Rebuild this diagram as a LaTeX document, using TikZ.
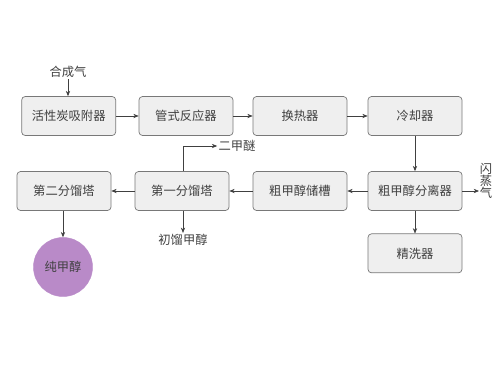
\documentclass[tikz,border=0pt]{standalone}
\usepackage{fontspec}
\setmainfont{Noto Sans CJK SC}
\usepackage{tikz}
\usetikzlibrary{arrows.meta,positioning,calc}
\definecolor{BoxFill}{RGB}{239,239,239}
\definecolor{BoxLine}{RGB}{120,120,120}
\definecolor{TxtC}{RGB}{64,64,64}
\definecolor{PurpC}{RGB}{185,138,200}
\tikzset{
  unit/.style={rectangle,rounded corners=3pt,draw=BoxLine,fill=BoxFill,line width=0.6pt,
               minimum width=2.82cm,minimum height=1.17cm,inner sep=0pt,
               font=\fontsize{10.5}{12}\selectfont,text=TxtC},
  prod/.style={circle,draw=PurpC,fill=PurpC,minimum size=1.77cm,inner sep=0pt,
               font=\fontsize{10.5}{12}\selectfont,text=TxtC},
  lbl/.style={font=\fontsize{10.5}{12}\selectfont,text=TxtC,inner sep=1pt},
  flow/.style={-{Stealth[length=1.6mm,width=1.3mm]},line width=0.5pt,TxtC},
}
\begin{document}
\begin{tikzpicture}
  \useasboundingbox (0,0) rectangle (15,-11.25);
  % first row
  \node[unit] (ads)  at (2.06,-3.48)  {活性炭吸附器};
  \node[unit] (reac) at (5.58,-3.48)  {管式反应器};
  \node[unit] (hx)   at (9.0,-3.48)   {换热器};
  \node[unit] (cool) at (12.45,-3.48) {冷却器};
  % second row
  \node[unit] (col2) at (1.92,-5.73)  {第二分馏塔};
  \node[unit] (col1) at (5.46,-5.73)  {第一分馏塔};
  \node[unit] (tank) at (9.0,-5.73)   {粗甲醇储槽};
  \node[unit] (sep)  at (12.45,-5.73) {粗甲醇分离器};
  \node[unit] (wash) at (12.45,-7.6)  {精洗器};
  \node[prod] (pure) at (1.89,-8.01)  {纯甲醇};
  % feeds and side streams
  \node[lbl] (syn)   at (2.04,-2.16) {合成气};
  \node[lbl] (dme)   at (7.11,-4.38) {二甲醚};
  \node[lbl] (first) at (5.49,-7.2)  {初馏甲醇};
  \node[lbl,align=center,font=\fontsize{10.5}{10.5}\selectfont] (flash) at (14.58,-5.43) {闪\\蒸\\气};
  \coordinate (fl) at (14.37,-5.73);
  \draw[flow] (syn) -- (syn|-ads.north);
  \draw[flow] (ads) -- (reac);
  \draw[flow] (reac) -- (hx);
  \draw[flow] (hx) -- (cool);
  \draw[flow] (cool) -- (sep);
  \draw[flow] (sep) -- (tank);
  \draw[flow] (sep) -- (wash);
  \draw[flow] (sep) -- (fl);
  \draw[flow] (tank) -- (col1);
  \draw[flow] (col1) -- (col2);
  \draw[flow] (col2.south-|pure) -- (pure);
  \draw[flow] ($(col1.north)+(0.03,0)$) |- (dme);
  \draw[flow] ($(col1.south)+(0.03,0)$) -- (first);
\end{tikzpicture}
\end{document}
